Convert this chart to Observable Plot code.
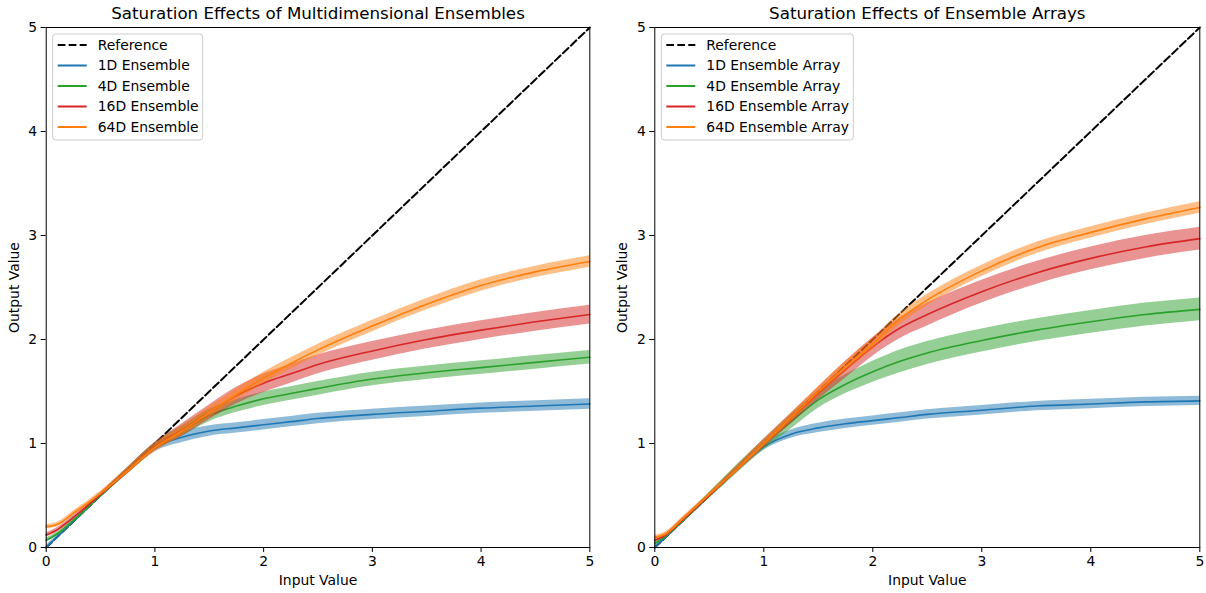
<!DOCTYPE html>
<html><head><meta charset="utf-8">
<script src="https://cdn.jsdelivr.net/npm/d3@7"></script>
<script src="https://cdn.jsdelivr.net/npm/@observablehq/plot@0.6"></script>
<style>
body{margin:0;background:#fff;}
#fig{display:flex;width:1206px;height:593px;overflow:hidden;}
#fig svg{display:block;}
</style></head><body><div id="fig"></div>
<script>
// Input values (x grid)
const xs = [0, 0.1, 0.25, 0.5, 0.75, 1, 1.25, 1.5, 1.75, 2, 2.25, 2.5, 3, 3.5, 4, 4.5, 5];

// Left panel: Multidimensional Ensembles (means)
const left1D  = [0.00, 0.10, 0.25, 0.50, 0.74, 0.96, 1.06, 1.12, 1.15, 1.18, 1.21, 1.24, 1.28, 1.31, 1.34, 1.36, 1.38];
const left4D  = [0.07, 0.13, 0.26, 0.50, 0.74, 0.97, 1.12, 1.27, 1.36, 1.43, 1.48, 1.53, 1.62, 1.68, 1.73, 1.78, 1.83];
const left16D = [0.12, 0.17, 0.29, 0.51, 0.74, 0.97, 1.13, 1.30, 1.46, 1.58, 1.67, 1.76, 1.89, 2.00, 2.09, 2.17, 2.24];
const left64D = [0.20, 0.22, 0.33, 0.52, 0.74, 0.96, 1.12, 1.30, 1.47, 1.63, 1.77, 1.90, 2.13, 2.34, 2.52, 2.65, 2.75];
// Left panel: band half-widths
const left1DSpread  = [0.02, 0.02, 0.02, 0.02, 0.03, 0.04, 0.05, 0.05, 0.05, 0.05, 0.05, 0.05, 0.05, 0.05, 0.05, 0.05, 0.05];
const left4DSpread  = [0.02, 0.02, 0.02, 0.02, 0.03, 0.04, 0.05, 0.06, 0.06, 0.065, 0.065, 0.065, 0.065, 0.065, 0.065, 0.065, 0.065];
const left16DSpread = [0.02, 0.02, 0.02, 0.02, 0.03, 0.04, 0.06, 0.07, 0.08, 0.09, 0.09, 0.09, 0.09, 0.09, 0.09, 0.09, 0.09];
const left64DSpread = [0.02, 0.02, 0.02, 0.02, 0.03, 0.04, 0.045, 0.05, 0.055, 0.055, 0.055, 0.055, 0.055, 0.055, 0.055, 0.055, 0.055];

// Right panel: Ensemble Arrays (means)
const right1D  = [0.00, 0.10, 0.25, 0.50, 0.75, 0.97, 1.09, 1.15, 1.19, 1.22, 1.25, 1.28, 1.32, 1.36, 1.38, 1.40, 1.41];
const right4D  = [0.04, 0.11, 0.25, 0.50, 0.75, 0.99, 1.21, 1.42, 1.57, 1.69, 1.79, 1.87, 1.99, 2.09, 2.17, 2.24, 2.29];
const right16D = [0.07, 0.12, 0.26, 0.50, 0.75, 1.00, 1.24, 1.48, 1.71, 1.93, 2.11, 2.24, 2.46, 2.64, 2.78, 2.89, 2.97];
const right64D = [0.10, 0.13, 0.27, 0.51, 0.75, 1.00, 1.25, 1.50, 1.74, 1.96, 2.20, 2.38, 2.66, 2.88, 3.03, 3.16, 3.27];
// Right panel: band half-widths
const right1DSpread  = [0.02, 0.02, 0.02, 0.02, 0.03, 0.035, 0.04, 0.045, 0.045, 0.045, 0.045, 0.045, 0.045, 0.045, 0.045, 0.045, 0.045];
const right4DSpread  = [0.02, 0.02, 0.02, 0.03, 0.04, 0.05, 0.07, 0.08, 0.09, 0.10, 0.11, 0.11, 0.11, 0.11, 0.11, 0.11, 0.11];
const right16DSpread = [0.02, 0.02, 0.02, 0.02, 0.03, 0.04, 0.05, 0.06, 0.08, 0.09, 0.10, 0.11, 0.11, 0.11, 0.11, 0.11, 0.11];
const right64DSpread = [0.02, 0.02, 0.02, 0.02, 0.03, 0.035, 0.04, 0.045, 0.05, 0.055, 0.055, 0.055, 0.055, 0.055, 0.055, 0.055, 0.055];

const dims = ["1D", "4D", "16D", "64D"];
const dimColors = ["#1f77b4", "#2ca02c", "#d62728", "#ff7f0e"];
const ticks = [0, 1, 2, 3, 4, 5];
const titles = ["Saturation Effects of Multidimensional Ensembles", "Saturation Effects of Ensemble Arrays"];
const legendSuffix = [" Ensemble", " Ensemble Array"];
const xLabel = "Input Value";
const yLabel = "Output Value";
const refLabel = "Reference";

const FONT = "DejaVu Sans, sans-serif";

function rows(means, spreads) {
  return xs.map((x, i) => ({x, y: means[i], lo: means[i] - spreads[i], hi: means[i] + spreads[i]}));
}

function panel(idx, seriesMeans, seriesSpreads, ml, mr) {
  const W = 603, H = 593, mt = 27, mb = 46;
  const marks = [
    Plot.line(xs, {x: d => d, y: d => d, stroke: "black", strokeWidth: 2, strokeDasharray: "7.7,3.3"})
  ];
  seriesMeans.forEach((m, k) => {
    const data = rows(m, seriesSpreads[k]);
    marks.push(Plot.areaY(data, {x: "x", y1: "lo", y2: "hi", fill: dimColors[k], fillOpacity: 0.5, curve: "monotone-x"}));
    marks.push(Plot.line(data, {x: "x", y: "y", stroke: dimColors[k], strokeWidth: 1.6, curve: "monotone-x"}));
  });
  marks.push(
    Plot.frame({stroke: "black", strokeWidth: 1}),
    Plot.axisX({ticks, tickSize: 5, tickPadding: 4, tickFormat: d => String(d), fontSize: 13.9}),
    Plot.axisY({ticks, tickSize: 5, tickPadding: 4, tickFormat: d => String(d), fontSize: 13.9}),
    Plot.text([titles[idx]], {frameAnchor: "top", dy: -14, lineAnchor: "middle", textAnchor: "middle", fontSize: 16.7, fill: "black"}),
    Plot.text([xLabel], {frameAnchor: "bottom", dy: 33, lineAnchor: "middle", textAnchor: "middle", fontSize: 13.9, fill: "black"}),
    Plot.text([yLabel], {frameAnchor: "left", dx: -32, rotate: -90, lineAnchor: "middle", textAnchor: "middle", fontSize: 13.9, fill: "black"})
  );
  const svg = Plot.plot({
    width: W, height: H,
    marginTop: mt, marginBottom: mb, marginLeft: ml, marginRight: mr,
    x: {domain: [0, 5], label: null},
    y: {domain: [0, 5], label: null},
    style: {fontFamily: FONT, fontSize: "13.9px", color: "black", background: "white", overflow: "visible"},
    marks
  });

  // Legend inside the plot, top-left
  const s = d3.select(svg);
  const g = s.append("g").attr("transform", `translate(${ml + 7},${mt + 7})`)
    .style("font-family", FONT).style("font-size", "13.9px").attr("text-anchor", "start");
  const labels = [refLabel, ...dims.map(d => d + legendSuffix[idx])];
  const colors = ["black", ...dimColors];
  const boxW = idx === 0 ? 150 : 192;
  g.append("rect").attr("x", 0).attr("y", 0).attr("width", boxW).attr("height", 106)
    .attr("rx", 3).attr("fill", "white").attr("fill-opacity", 0.8).attr("stroke", "#cccccc").attr("stroke-width", 1);
  labels.forEach((lab, i) => {
    const yy = 11 + i * 20.5;
    g.append("line").attr("x1", 5).attr("x2", 34).attr("y1", yy).attr("y2", yy)
      .attr("stroke", colors[i]).attr("stroke-width", 2)
      .attr("stroke-dasharray", i === 0 ? "7.7,3.3" : null);
    g.append("text").attr("x", 45).attr("y", yy).attr("dy", "0.35em")
      .attr("text-anchor", "start").attr("fill", "black").text(lab);
  });
  return svg;
}

const fig = document.getElementById("fig");
fig.appendChild(panel(0, [left1D, left4D, left16D, left64D], [left1DSpread, left4DSpread, left16DSpread, left64DSpread], 45.7, 13.7));
fig.appendChild(panel(1, [right1D, right4D, right16D, right64D], [right1DSpread, right4DSpread, right16DSpread, right64DSpread], 51.3, 6.7));
</script>
</body></html>
